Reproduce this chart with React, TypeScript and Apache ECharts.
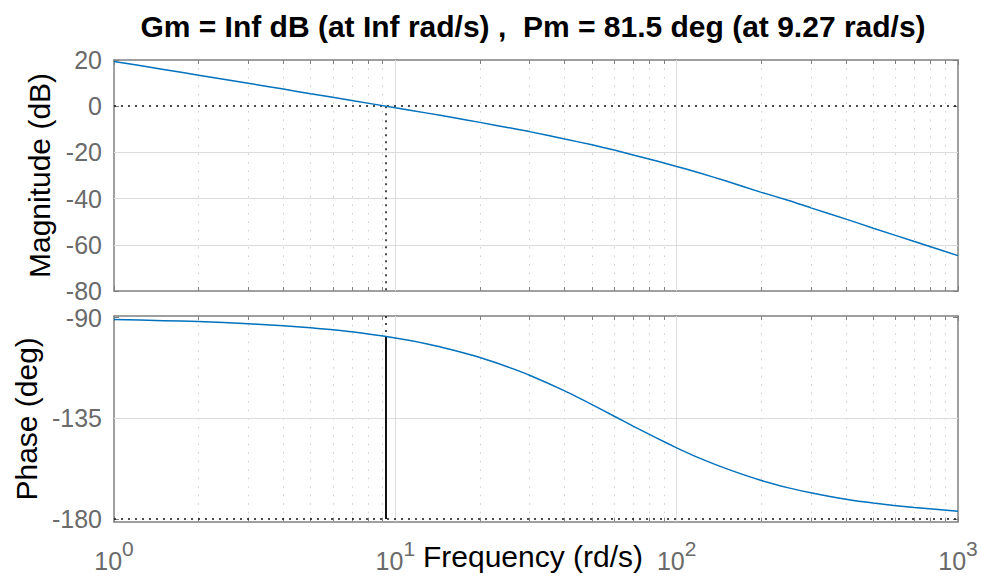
import React, { useEffect, useRef } from "react";
import * as echarts from "echarts";

// Frequencies (rad/s) and read-off values
const FREQ = [1, 1.5, 2, 3, 4, 5, 7, 10, 13, 16, 20, 25, 30, 40, 50, 60, 70, 85, 100, 120, 150, 200, 250, 300, 400, 500, 700, 1000];
const MAG_DB = [19.4, 15.9, 13.4, 9.9, 7.4, 5.4, 2.5, -0.7, -3.0, -4.9, -7.0, -9.2, -11.0, -14.2, -16.7, -19.0, -21.1, -23.7, -26.1, -28.8, -32.4, -37.3, -40.8, -44.0, -48.9, -52.8, -58.6, -64.7];
const PHASE_DEG = [-90.9, -91.4, -91.8, -92.8, -93.7, -94.6, -96.4, -99.2, -101.8, -104.5, -107.9, -112.0, -115.8, -122.8, -128.9, -134.1, -138.5, -143.9, -148.2, -152.7, -157.5, -162.8, -166.1, -168.3, -171.2, -172.9, -174.9, -176.5];

const TITLE = "Gm = Inf dB (at Inf rad/s) ,  Pm = 81.5 deg (at 9.27 rad/s)";
const PM_FREQ = 9.27;
const PM_PHASE = -98.5;

const MAG_TICKS = [20, 0, -20, -40, -60, -80];
const PHASE_TICKS = [-90, -135, -180];
const MINOR_FREQ = [2, 3, 4, 5, 6, 7, 8, 9, 20, 30, 40, 50, 60, 70, 80, 90, 200, 300, 400, 500, 600, 700, 800, 900];
const MAJOR_FREQ = [10, 100];

const X_MIN = 1, X_MAX = 1000;
const MAG_MIN = -80, MAG_MAX = 20;
const PH_MIN = -181.2, PH_MAX = -89.33;

const FONT = "'Liberation Sans', Arial, Helvetica, sans-serif";
const GRAY = "#6a6a6a";
const FRAME = "#808080";
const GRID = "#dcdcdc";
const BLUE = "#0072BD";

function seg(x1: number, y1: number, x2: number, y2: number, lineStyle: any) {
  return [{ coord: [x1, y1], lineStyle }, { coord: [x2, y2] }];
}

function buildOption() {
  const minorStyle = { color: "#cfcfcf", width: 1, type: [1.5, 7] };
  const majorStyle = { color: GRID, width: 1, type: "solid" };
  const tickStyle = { color: FRAME, width: 1, type: "solid" };
  const blackDot = { color: "#111", width: 1.5, type: [2, 5] };

  const magTickLen = (MAG_MAX - MAG_MIN) * 4 / 231;
  const phTickLen = (PH_MAX - PH_MIN) * 4 / 206;

  const topLines: any[] = [];
  MINOR_FREQ.forEach((f) => topLines.push(seg(f, MAG_MIN, f, MAG_MAX, minorStyle)));
  MAJOR_FREQ.forEach((f) => topLines.push(seg(f, MAG_MIN, f, MAG_MAX, majorStyle)));
  MAG_TICKS.filter((v) => v < MAG_MAX && v > MAG_MIN && v !== 0).forEach((v) => topLines.push(seg(X_MIN, v, X_MAX, v, majorStyle)));
  MINOR_FREQ.forEach((f) => {
    topLines.push(seg(f, MAG_MIN, f, MAG_MIN + magTickLen, tickStyle));
    topLines.push(seg(f, MAG_MAX, f, MAG_MAX - magTickLen, tickStyle));
  });
  topLines.push(seg(X_MIN, 0, X_MAX, 0, blackDot));
  topLines.push(seg(PM_FREQ, 0, PM_FREQ, MAG_MIN, blackDot));

  const botLines: any[] = [];
  MINOR_FREQ.forEach((f) => botLines.push(seg(f, PH_MIN, f, PH_MAX, minorStyle)));
  MAJOR_FREQ.forEach((f) => botLines.push(seg(f, PH_MIN, f, PH_MAX, majorStyle)));
  botLines.push(seg(X_MIN, -135, X_MAX, -135, majorStyle));
  MINOR_FREQ.forEach((f) => {
    botLines.push(seg(f, PH_MIN, f, PH_MIN + phTickLen, tickStyle));
    botLines.push(seg(f, PH_MAX, f, PH_MAX - phTickLen, tickStyle));
  });
  botLines.push(seg(X_MIN, -180, X_MAX, -180, blackDot));
  botLines.push(seg(PM_FREQ, PH_MAX, PM_FREQ, PM_PHASE, blackDot));
  botLines.push(seg(PM_FREQ, PM_PHASE, PM_FREQ, -180, { color: "#111", width: 2, type: "solid" }));

  const axisLine = { show: true, onZero: false, lineStyle: { color: FRAME, width: 1.5 } };
  const axisTickIn = { show: true, inside: true, length: 5, lineStyle: { color: FRAME, width: 1 } };
  const labelStyle = { color: GRAY, fontSize: 25, fontFamily: FONT };
  const nameStyle = { color: "#000", fontSize: 30, fontFamily: FONT };

  const xBase = (gridIndex: number, position: string, showLabel: boolean, extra: any = {}) => ({
    type: "log",
    logBase: 10,
    min: X_MIN,
    max: X_MAX,
    gridIndex,
    position,
    axisLine,
    axisTick: axisTickIn,
    splitLine: { show: false },
    axisLabel: showLabel
      ? {
          show: true,
          margin: 16,
          formatter: (v: number) => `{b|10}{s|${Math.round(Math.log10(v))}}`,
          rich: {
            b: { color: GRAY, fontSize: 25, fontFamily: FONT, lineHeight: 36, verticalAlign: "bottom" },
            s: { color: GRAY, fontSize: 21, fontFamily: FONT, lineHeight: 21, verticalAlign: "top" },
          },
        }
      : { show: false },
    ...extra,
  });

  return {
    animation: false,
    textStyle: { fontFamily: FONT },
    title: [
      {
        text: TITLE,
        left: 528,
        top: 6,
        textAlign: "center",
        textStyle: { fontSize: 30, fontWeight: "bold", color: "#000", fontFamily: FONT },
      },
    ],
    grid: [
      { left: 114, top: 60, width: 844, height: 231, outerBoundsMode: "none", containLabel: false },
      { left: 114, top: 316, width: 844, height: 205.7, outerBoundsMode: "none", containLabel: false },
    ],
    xAxis: [
      xBase(0, "bottom", false),
      xBase(0, "top", false),
      xBase(1, "bottom", true, {
        name: "Frequency (rd/s)",
        nameLocation: "middle",
        nameGap: 20,
        nameMoveOverlap: false,
        nameTextStyle: { ...nameStyle, padding: [0, 6, 0, 0] },
      }),
      xBase(1, "top", false),
    ],
    yAxis: [
      {
        type: "value",
        gridIndex: 0,
        position: "left",
        min: MAG_MIN,
        max: MAG_MAX,
        interval: 20,
        axisLine,
        axisTick: axisTickIn,
        splitLine: { show: false },
        axisLabel: { ...labelStyle, margin: 12 },
        name: "Magnitude (dB)",
        nameLocation: "middle",
        nameGap: 56,
        nameTextStyle: nameStyle,
      },
      {
        type: "value",
        gridIndex: 0,
        position: "right",
        min: MAG_MIN,
        max: MAG_MAX,
        interval: 20,
        axisLine,
        axisTick: axisTickIn,
        splitLine: { show: false },
        axisLabel: { show: false },
      },
      {
        type: "value",
        gridIndex: 1,
        position: "left",
        min: PH_MIN,
        max: PH_MAX,
        axisLine,
        axisTick: { ...axisTickIn, customValues: PHASE_TICKS },
        splitLine: { show: false },
        axisLabel: { ...labelStyle, margin: 12, customValues: PHASE_TICKS },
        name: "Phase (deg)",
        nameLocation: "middle",
        nameGap: 70,
        nameTextStyle: nameStyle,
      },
      {
        type: "value",
        gridIndex: 1,
        position: "right",
        min: PH_MIN,
        max: PH_MAX,
        axisLine,
        axisTick: { ...axisTickIn, customValues: PHASE_TICKS },
        splitLine: { show: false },
        axisLabel: { show: false },
      },
    ],
    series: [
      {
        type: "line",
        xAxisIndex: 0,
        yAxisIndex: 0,
        z: 1,
        data: [[X_MIN, MAG_MIN]],
        showSymbol: false,
        symbol: "none",
        lineStyle: { width: 0, opacity: 0 },
        silent: true,
        markLine: { silent: true, symbol: ["none", "none"], label: { show: false }, data: topLines, animation: false },
      },
      {
        type: "line",
        xAxisIndex: 2,
        yAxisIndex: 2,
        z: 1,
        data: [[X_MIN, PH_MIN]],
        showSymbol: false,
        symbol: "none",
        lineStyle: { width: 0, opacity: 0 },
        silent: true,
        markLine: { silent: true, symbol: ["none", "none"], label: { show: false }, data: botLines, animation: false },
      },
      {
        type: "line",
        xAxisIndex: 0,
        yAxisIndex: 0,
        z: 5,
        data: FREQ.map((f, i) => [f, MAG_DB[i]]),
        symbol: "none",
        smooth: 0.2,
        lineStyle: { color: BLUE, width: 1.5 },
      },
      {
        type: "line",
        xAxisIndex: 2,
        yAxisIndex: 2,
        z: 5,
        data: FREQ.map((f, i) => [f, PHASE_DEG[i]]),
        symbol: "none",
        smooth: 0.2,
        lineStyle: { color: BLUE, width: 1.5 },
      },
    ],
  };
}

export default function App() {
  const ref = useRef<HTMLDivElement>(null);
  useEffect(() => {
    if (!ref.current) return;
    const chart = echarts.init(ref.current, null, { renderer: "svg" });
    chart.setOption(buildOption() as any);
    return () => chart.dispose();
  }, []);
  return (
    <div
      ref={ref}
      style={{ position: "fixed", left: 0, top: 0, width: 981, height: 576, background: "#fff" }}
    />
  );
}
